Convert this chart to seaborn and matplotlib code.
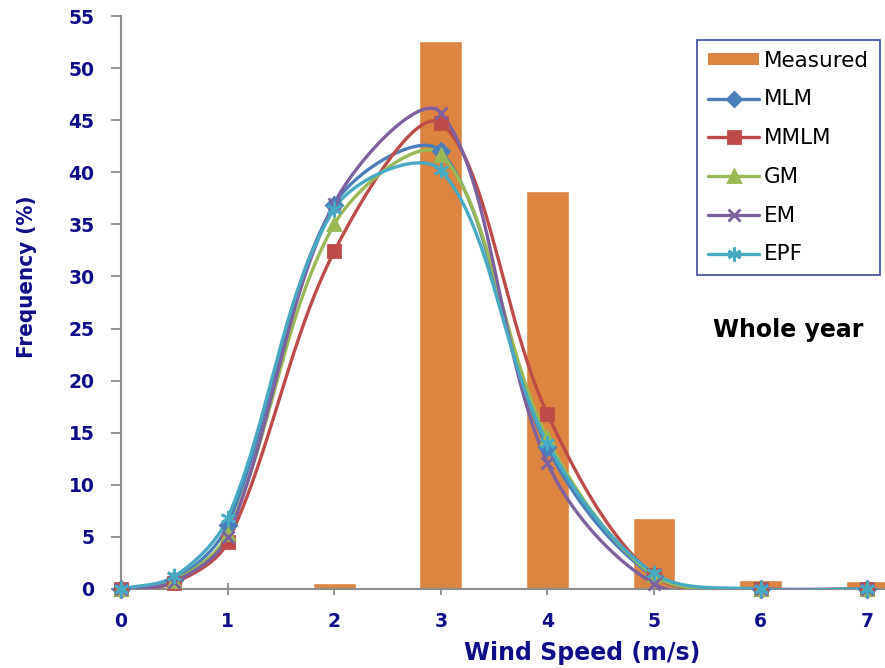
import numpy as np
import matplotlib
matplotlib.use("Agg")
import matplotlib.pyplot as plt
import seaborn as sns
from matplotlib.lines import Line2D
from matplotlib.patches import Patch

# ---------------- data ----------------
speed_pts = [0, 0.5, 1, 2, 3, 4, 5, 6, 7]
mlm  = [0, 0.9, 6.1, 36.9, 42.0, 13.6, 1.2, 0, 0]
mmlm = [0, 0.6, 4.5, 32.4, 44.7, 16.8, 1.3, 0, 0]
gm   = [0, 0.8, 5.3, 35.0, 41.7, 14.5, 1.3, 0, 0]
em   = [0, 0.7, 5.0, 37.0, 45.7, 12.1, 0.5, 0, 0]
epf  = [0, 1.2, 6.8, 36.5, 40.2, 14.0, 1.5, 0, 0]

bar_speed = [2, 3, 4, 5, 6, 7]
measured = [0.6, 52.6, 38.2, 6.8, 0.9, 0.8]

x_ticks = [0, 1, 2, 3, 4, 5, 6, 7]
y_ticks = [0, 5, 10, 15, 20, 25, 30, 35, 40, 45, 50, 55]

series_names = ["MLM", "MMLM", "GM", "EM", "EPF"]
series_vals = [mlm, mmlm, gm, em, epf]

# ---------------- styles ----------------
colors = {"MLM": "#4A7EBB", "MMLM": "#BE4B48", "GM": "#98B954",
          "EM": "#7D60A0", "EPF": "#46AAC5"}
markers = {"MLM": "D", "MMLM": "s", "GM": "^", "EM": "x", "EPF": (6, 2, 0)}
msizes = {"MLM": 8, "MMLM": 9, "GM": 9, "EM": 9, "EPF": 11}
bar_color = "#DD8440"
navy = "#0E0E8A"
PX_X, PX_Y = 106.6, 10.42  # approximate screen scale used for smoothing


def smooth(xs, ys, n=50):
    """Excel-like smoothed line (Bezier through the points, tangents scaled by
    neighbouring chord lengths in screen space)."""
    P = np.column_stack([xs, ys]).astype(float) * [PX_X, PX_Y]
    ext = np.vstack([P[0], P, P[-1]])
    out = []
    t = np.linspace(0, 1, n)[:, None]
    for i in range(len(P) - 1):
        p0, p1, p2, p3 = ext[i], ext[i + 1], ext[i + 2], ext[i + 3]
        d01 = np.hypot(*(p1 - p0))
        d12 = np.hypot(*(p2 - p1))
        d23 = np.hypot(*(p3 - p2))
        f1 = d12 / (d01 + d12) if d01 + d12 > 0 else 0
        f2 = d12 / (d12 + d23) if d12 + d23 > 0 else 0
        c1 = p1 + (p2 - p0) * f1 / 3
        c2 = p2 - (p3 - p1) * f2 / 3
        seg = (1 - t) ** 3 * p1 + 3 * (1 - t) ** 2 * t * c1 + 3 * (1 - t) * t ** 2 * c2 + t ** 3 * p2
        out.append(seg if i == 0 else seg[1:])
    out = np.vstack(out) / [PX_X, PX_Y]
    return out[:, 0], out[:, 1]


sns.set_theme(style="white")
plt.rcParams["font.family"] = ["DejaVu Sans"]

fig = plt.figure(figsize=(8.85, 6.68), dpi=100)
ax = fig.add_axes([121 / 885, 79 / 668, 764 / 885, 573 / 668])

sns.barplot(x=bar_speed, y=measured, native_scale=True, color=bar_color,
            width=0.4, saturation=1, ax=ax, zorder=1)

for name, vals in zip(series_names, series_vals):
    c = colors[name]
    sx, sy = smooth(speed_pts, vals)
    sns.lineplot(x=sx, y=sy, sort=False, estimator=None, color=c,
                 linewidth=2.4, ax=ax, zorder=3)
    ax.plot(speed_pts, vals, linestyle="none", marker=markers[name],
            ms=msizes[name], color=c, mec=c, mew=2.0, zorder=4, clip_on=False)

ax.set_xlim(0, 764 / 106.6)
ax.set_ylim(0, 55)
ax.set_xticks(x_ticks)
ax.set_yticks(y_ticks)
ax.set_xlabel("")
ax.set_ylabel("")

for s in ["top", "right"]:
    ax.spines[s].set_visible(False)
for s in ["left", "bottom"]:
    ax.spines[s].set_color("#8C8C8C")
    ax.spines[s].set_linewidth(1.5)

ax.tick_params(axis="y", direction="out", length=7, width=1.3, color="#8C8C8C",
               pad=12, labelsize=13.5, labelcolor=navy, left=True)
ax.tick_params(axis="x", direction="inout", length=9, width=1.3, color="#8C8C8C",
               pad=12, labelsize=13.5, labelcolor=navy, bottom=True)
for lab in ax.get_xticklabels() + ax.get_yticklabels():
    lab.set_fontweight("bold")

fig.text(582 / 885, 1 - 653 / 668, "Wind Speed (m/s)", ha="center", va="center",
         fontsize=17, fontweight="bold", color=navy)
fig.text(27 / 885, 1 - 277 / 668, "Frequency (%)", ha="center", va="center",
         rotation=90, fontsize=16, fontweight="bold", color=navy,
         family=["Liberation Sans Narrow", "DejaVu Sans"], fontstretch="condensed")
fig.text(788 / 885, 1 - 330 / 668, "Whole year", ha="center", va="center",
         fontsize=17, fontweight="bold", color="black")

handles = [Patch(facecolor=bar_color, edgecolor="none")]
for name in series_names:
    c = colors[name]
    handles.append(Line2D([0], [0], color=c, lw=2.4, marker=markers[name],
                          ms=msizes[name] - 1, mec=c, mew=2.0))
leg = fig.legend(handles, ["Measured"] + series_names, loc="upper left",
                 bbox_to_anchor=(697 / 885, 1 - 40 / 668), borderaxespad=0,
                 frameon=True, fancybox=False, fontsize=15.5, handlelength=2.4,
                 handleheight=0.5, handletextpad=0.2, labelspacing=0.87,
                 borderpad=0.5, labelcolor="black")
leg.get_frame().set_edgecolor("#1F2F8F")
leg.get_frame().set_linewidth(1.3)

fig.savefig("out.png", dpi=100, facecolor="white")
